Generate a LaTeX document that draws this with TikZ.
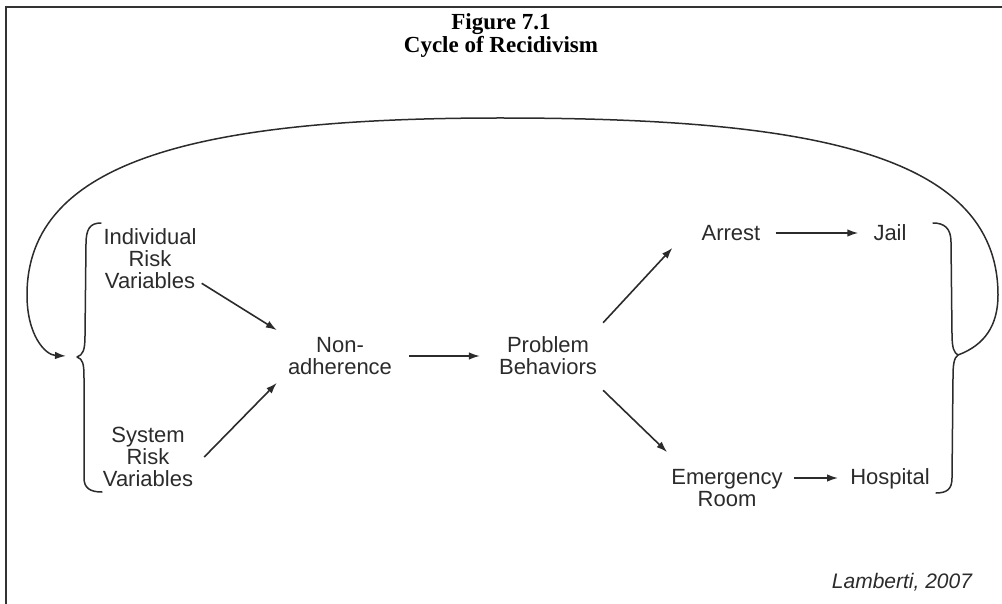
\documentclass[tikz,border=0pt]{standalone}
\usepackage{fontspec}
\setmainfont{Liberation Sans}
\newfontfamily\titlefont{Liberation Serif}
\usetikzlibrary{arrows.meta}
\definecolor{ink}{HTML}{2B2B2B}
\begin{document}
\begin{tikzpicture}[x=1pt,y=-1pt,
  lbl/.style={font=\fontsize{22}{22}\selectfont, align=center, inner sep=0pt, text=ink},
  ttl/.style={font=\titlefont\bfseries\fontsize{23}{23}\selectfont, inner sep=0pt, anchor=base, text=black},
  cite/.style={font=\itshape\fontsize{21}{21}\selectfont, inner sep=0pt, anchor=base, text=ink},
  arr/.style={draw=ink, line width=1.6pt, -{Latex[length=11pt,width=7.5pt]}},
  brace/.style={draw=ink, line width=1.5pt, line cap=round, line join=round},
  frame/.style={draw=black!80, line width=2pt}]
\useasboundingbox (0,0) rectangle (1002,604);
\draw[frame] (6,604) -- (6,7) -- (1002,7);

% title
\node[ttl] (t1) at (501,30) {Figure 7.1};
\node[ttl] (t2) at (501,53) {Cycle of Recidivism};

% labels
\node[lbl] (ind) at (150,259) {Individual\\Risk\\Variables};
\node[lbl] (sys) at (148,457) {System\\Risk\\Variables};
\node[lbl] (non) at (340,356) {Non-\\adherence};
\node[lbl] (prob) at (548,356) {Problem\\Behaviors};
\node[lbl] (arrest) at (731,233) {Arrest};
\node[lbl] (jail) at (890,233) {Jail};
\node[lbl] (er) at (727,488) {Emergency\\Room};
\node[lbl] (hosp) at (890,479) {Hospital};
\node[cite] (cite) at (902,588) {Lamberti, 2007};

% arrows
\draw[arr] ([shift={(5,-6)}]ind.south east) -- ([shift={(-11,-7)}]non.north west);
\draw[arr] ([shift={(11,0)}]sys.east) -- ([shift={(-11,8)}]non.south west);
\draw[arr, shorten <=17pt, shorten >=19pt] (non.east) -- (prob.west);
\draw[arr] ([shift={(6,-14)}]prob.north east) -- ([shift={(-29,7)}]arrest.south west);
\draw[arr] ([shift={(6,15)}]prob.south east) -- ([shift={(-4,-17)}]er.north west);
\draw[arr, shorten <=15pt, shorten >=15pt] (arrest.east) -- (jail.west);
\draw[arr] ([shift={(11,-10)}]er.east) -- ([shift={(-12,-1)}]hosp.west);

% braces
\coordinate (ltip) at (77,357);
\coordinate (rtip) at (958,355);
\draw[brace] (101,223) .. controls (90,223) and (86,229) .. (86,244)
  -- (85,336) .. controls (85,350) and (83,355) .. (ltip)
  .. controls (83,359) and (84,364) .. (84,378)
  -- (84,478) .. controls (84,488) and (90,492) .. (102,492);
\draw[brace] (933,223) .. controls (944,223) and (951,228) .. (951,242)
  -- (952,334) .. controls (952,348) and (954,353) .. (rtip)
  .. controls (954,358) and (953,364) .. (953,378)
  -- (952,478) .. controls (952,489) and (947,493) .. (936,493);

% feedback loop
\draw[arr, line width=1.5pt] (rtip) .. controls (985,345) and (998,325) .. (998,295)
  .. controls (998,150) and (800,118) .. (500,118)
  .. controls (200,118) and (27,160) .. (27,295)
  .. controls (27,335) and (45,355) .. (66,356);
\end{tikzpicture}
\end{document}
